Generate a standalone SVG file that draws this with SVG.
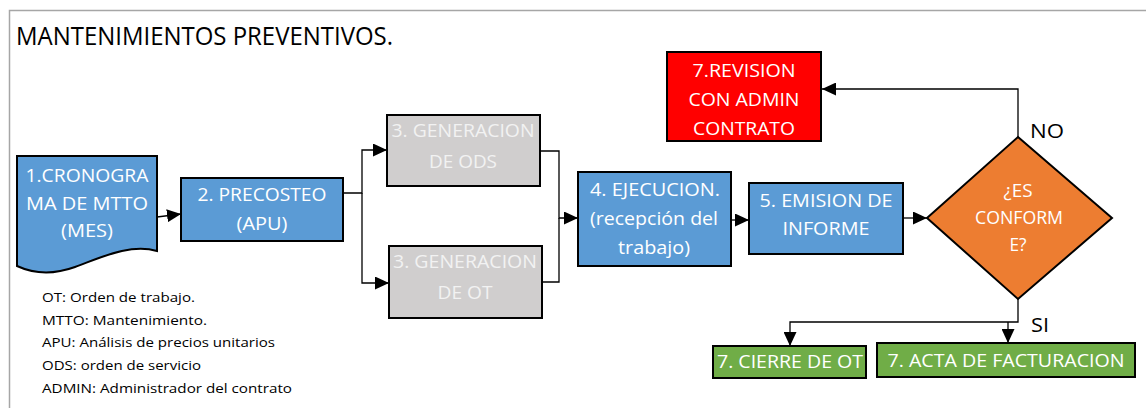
<svg xmlns="http://www.w3.org/2000/svg" width="1146" height="408" viewBox="0 0 1146 408">
<style>
text{font-family:"Open Sans","Liberation Sans",sans-serif}
.t{font-size:19px;fill:#ffffff;text-anchor:middle}
.tg{font-size:19px;fill:#f2f2f2;text-anchor:middle}
.box{stroke:#000;stroke-width:2}
.blue{fill:#5b9bd5}
.gray{fill:#d0cece}
.red{fill:#ff0000}
.green{fill:#70ad47}
.orange{fill:#ed7d31}
.lbl{font-size:20px;fill:#000}
.leg{font-size:13.5px;fill:#000}
.c{fill:none;stroke:#000;stroke-width:1.3}
</style>
<defs>
<marker id="ah" markerUnits="userSpaceOnUse" markerWidth="15" markerHeight="13" refX="14" refY="6.5" orient="auto">
<path d="M0,0 L14,6.5 L0,13 z" fill="#000"/>
</marker>
</defs>
<rect width="1146" height="408" fill="#fff"/>
<path d="M9.5,408 V10.5 H1146" fill="none" stroke="#a6a6a6" stroke-width="1.5"/>
<text x="16" y="45" font-size="25" fill="#000" textLength="377" lengthAdjust="spacingAndGlyphs">MANTENIMIENTOS PREVENTIVOS.</text>

<g id="connectors">
<path class="c" d="M157,217 L181,214" marker-end="url(#ah)"/>
<path class="c" d="M343,193 H362 V150 H387" marker-end="url(#ah)"/>
<path class="c" d="M362,193 V283 H389" marker-end="url(#ah)"/>
<path class="c" d="M540,151 H559 V218 H578" marker-end="url(#ah)"/>
<path class="c" d="M542,282 H559 V218"/>
<path class="c" d="M731,220 H749" marker-end="url(#ah)"/>
<path class="c" d="M903,218 H927" marker-end="url(#ah)"/>
<path class="c" d="M1018,137 V89 H822" marker-end="url(#ah)"/>
<path class="c" d="M1018,299 V322 H790 V346" marker-end="url(#ah)"/>
<path class="c" d="M1008,322 V343" marker-end="url(#ah)"/>
</g>

<g id="n1">
<path class="box blue" d="M17,156 H157 V251 C130,243 100,258 75,267 C50,276 30,272 17,266 Z"/>
<text class="t" x="87" y="182" textLength="123" lengthAdjust="spacingAndGlyphs">1.CRONOGRA</text>
<text class="t" x="87" y="210" textLength="122" lengthAdjust="spacingAndGlyphs">MA DE MTTO</text>
<text class="t" x="87" y="237" textLength="52" lengthAdjust="spacingAndGlyphs">(MES)</text>
</g>

<g id="n2">
<rect class="box blue" x="181" y="178" width="162" height="63"/>
<text class="t" x="262" y="201" textLength="129" lengthAdjust="spacingAndGlyphs">2. PRECOSTEO</text>
<text class="t" x="262" y="230" textLength="51" lengthAdjust="spacingAndGlyphs">(APU)</text>
</g>

<g id="n3a">
<rect class="box gray" x="387" y="115" width="153" height="71"/>
<text class="tg" x="463" y="137" textLength="143" lengthAdjust="spacingAndGlyphs">3. GENERACION</text>
<text class="tg" x="463" y="168" textLength="68" lengthAdjust="spacingAndGlyphs">DE ODS</text>
</g>

<g id="n3b">
<rect class="box gray" x="389" y="246" width="153" height="72"/>
<text class="tg" x="465" y="268" textLength="144" lengthAdjust="spacingAndGlyphs">3. GENERACION</text>
<text class="tg" x="465" y="299" textLength="55" lengthAdjust="spacingAndGlyphs">DE OT</text>
</g>

<g id="n4">
<rect class="box blue" x="578" y="172" width="153" height="94"/>
<text class="t" x="655" y="196" textLength="130" lengthAdjust="spacingAndGlyphs">4. EJECUCION.</text>
<text class="t" x="654" y="225" textLength="128" lengthAdjust="spacingAndGlyphs">(recepción del</text>
<text class="t" x="654" y="254" textLength="72" lengthAdjust="spacingAndGlyphs">trabajo)</text>
</g>

<g id="n5">
<rect class="box blue" x="749" y="183" width="154" height="71"/>
<text class="t" x="826" y="207" textLength="133" lengthAdjust="spacingAndGlyphs">5. EMISION DE</text>
<text class="t" x="826" y="235" textLength="87" lengthAdjust="spacingAndGlyphs">INFORME</text>
</g>

<g id="n6">
<path class="box orange" d="M1018,137 L1112,218 L1018,299 L927,218 Z"/>
<text class="t" x="1018" y="197" textLength="29" lengthAdjust="spacingAndGlyphs">¿ES</text>
<text class="t" x="1019" y="224" textLength="88" lengthAdjust="spacingAndGlyphs">CONFORM</text>
<text class="t" x="1018" y="251" textLength="17" lengthAdjust="spacingAndGlyphs">E?</text>
</g>

<g id="n7r">
<rect class="box red" x="667" y="52" width="154" height="89"/>
<text class="t" x="744" y="77" textLength="103" lengthAdjust="spacingAndGlyphs">7.REVISION</text>
<text class="t" x="744" y="106" textLength="111" lengthAdjust="spacingAndGlyphs">CON ADMIN</text>
<text class="t" x="744" y="135" textLength="102" lengthAdjust="spacingAndGlyphs">CONTRATO</text>
</g>

<g id="n7c">
<rect class="box green" x="713" y="346" width="153" height="32"/>
<text class="t" x="790" y="368" textLength="146" lengthAdjust="spacingAndGlyphs">7. CIERRE DE OT</text>
</g>

<g id="n7a">
<rect class="box green" x="877" y="343" width="258" height="34"/>
<text class="t" x="1006" y="367" textLength="237" lengthAdjust="spacingAndGlyphs">7. ACTA DE FACTURACION</text>
</g>

<text class="lbl" x="1030" y="138" textLength="34" lengthAdjust="spacingAndGlyphs">NO</text>
<text class="lbl" x="1031" y="332" textLength="18" lengthAdjust="spacingAndGlyphs">SI</text>

<g id="legend">
<text class="leg" x="42" y="302" textLength="153" lengthAdjust="spacingAndGlyphs">OT: Orden de trabajo.</text>
<text class="leg" x="42" y="325" textLength="165" lengthAdjust="spacingAndGlyphs">MTTO: Mantenimiento.</text>
<text class="leg" x="42" y="347" textLength="233" lengthAdjust="spacingAndGlyphs">APU: Análisis de precios unitarios</text>
<text class="leg" x="42" y="370" textLength="159" lengthAdjust="spacingAndGlyphs">ODS: orden de servicio</text>
<text class="leg" x="42" y="393" textLength="250" lengthAdjust="spacingAndGlyphs">ADMIN: Administrador del contrato</text>
</g>
</svg>
